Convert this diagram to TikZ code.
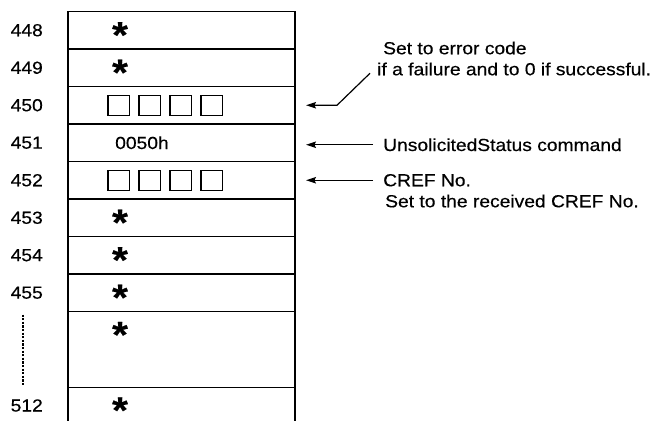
\documentclass[tikz,border=0pt]{standalone}
\usepackage{fontspec}
\setmainfont{Liberation Sans}[FakeStretch=1.1, FakeBold=0.4]
\usetikzlibrary{arrows.meta,positioning}

\newcommand{\memfont}{\fontsize{17.5}{20}\selectfont}
\newcommand{\memstar}{\raisebox{-0.32em}[0.3em][0pt]{*}}

\tikzset{
  cell/.style={draw, line width=1.6pt, minimum width=227pt, minimum height=37.5pt, inner sep=0pt, outer sep=0pt},
  bigcell/.style={cell, minimum height=76pt},
  opencell/.style={minimum width=227pt, minimum height=33.5pt, inner sep=0pt, outer sep=0pt},
  bit/.style={draw, line width=1.3pt, minimum width=21.5pt, minimum height=20pt, inner sep=0pt, outer sep=0pt},
  addr/.style={font=\memfont, inner sep=0pt},
  val/.style={font=\memfont, inner sep=0pt},
  ast/.style={font=\fontsize{37}{37}\bfseries, inner sep=0pt},
  note/.style={font=\memfont, inner sep=0pt, anchor=base west},
  ptr/.style={-{Stealth[length=10pt, width=6.5pt, inset=1.5pt]}, line width=1.2pt, shorten >=11pt},
  gapline/.style={line width=2pt, dash pattern=on 2.2pt off 1.4pt}
}

\begin{document}
\begin{tikzpicture}[x=1pt, y=-1pt, node distance=0pt]
  \useasboundingbox (0,0) rectangle (664,421);

  % memory cells
  \node[cell] (r448) at (181.5,30.25) {};
  \node[cell, below=of r448] (r449) {};
  \node[cell, below=of r449] (r450) {};
  \node[cell, below=of r450] (r451) {};
  \node[cell, below=of r451] (r452) {};
  \node[cell, below=of r452] (r453) {};
  \node[cell, below=of r453] (r454) {};
  \node[cell, below=of r454] (r455) {};
  \node[bigcell, below=of r455] (rgap) {};
  \node[opencell, below=of rgap] (r512) {};
  \draw[line width=1.6pt] (r512.north west) -- (r512.south west);
  \draw[line width=1.6pt] (r512.north east) -- (r512.south east);

  % addresses
  \coordinate (c512) at ([yshift=-18pt]r512.north west);
  \node[addr, left=25pt of r448] (a448) {448};
  \node[addr, left=25pt of r449] (a449) {449};
  \node[addr, left=25pt of r450] (a450) {450};
  \node[addr, left=25pt of r451] (a451) {451};
  \node[addr, left=25pt of r452] (a452) {452};
  \node[addr, left=25pt of r453] (a453) {453};
  \node[addr, left=25pt of r454] (a454) {454};
  \node[addr, left=25pt of r455] (a455) {455};
  \node[addr, left=25pt of c512] (a512) {512};
  \coordinate (g1) at ([xshift=-45pt,yshift=-3pt]rgap.north west);
  \coordinate (g2) at ([xshift=-45pt,yshift=3pt]rgap.south west);
  \draw[gapline] (g1) -- (g2);

  % contents
  \node[ast] (s448) at ([xshift=52pt]r448.west) {\memstar};
  \node[ast] (s449) at ([xshift=52pt]r449.west) {\memstar};
  \node[ast] (s453) at ([xshift=52pt]r453.west) {\memstar};
  \node[ast] (s454) at ([xshift=52pt]r454.west) {\memstar};
  \node[ast] (s455) at ([xshift=52pt]r455.west) {\memstar};
  \node[ast] (sgap) at ([xshift=52pt,yshift=-18.5pt]rgap.north west) {\memstar};
  \node[ast] (s512) at ([xshift=52pt,yshift=-18pt]r512.north west) {\memstar};
  \node[val, right=47pt of r451.west] (v451) {0050h};

  \node[bit, right=40pt of r450.west] (b450a) {};
  \node[bit, right=9.5pt of b450a] (b450b) {};
  \node[bit, right=9.5pt of b450b] (b450c) {};
  \node[bit, right=9.5pt of b450c] (b450d) {};
  \node[bit, right=40pt of r452.west] (b452a) {};
  \node[bit, right=9.5pt of b452a] (b452b) {};
  \node[bit, right=9.5pt of b452b] (b452c) {};
  \node[bit, right=9.5pt of b452c] (b452d) {};

  % notes
  \coordinate (k450) at ([xshift=42pt]r450.east);
  \node[note] (n450b) at ([xshift=40pt,yshift=30pt]k450) {if a failure and to 0 if successful.};
  \node[note] (n450a) at ([xshift=6pt,yshift=21pt]n450b.base west) {Set to error code};
  \node[font=\memfont, inner sep=0pt, anchor=west, right=88pt of r451, yshift=-2pt] (n451) {UnsolicitedStatus command};
  \node[font=\memfont, inner sep=0pt, anchor=west, right=88pt of r452] (n452a) {CREF No.};
  \node[note] (n452b) at ([xshift=2pt,yshift=-21pt]n452a.base west) {Set to the received CREF No.};

  \draw[ptr] ([xshift=-7pt,yshift=2pt]n450b.base west) -- (k450) -- (r450.east);
  \draw[ptr, shorten <=10pt] (n451.west) -- (n451.west -| r451.east);
  \draw[ptr, shorten <=10pt] (n452a.west) -- (n452a.west -| r452.east);
\end{tikzpicture}
\end{document}
